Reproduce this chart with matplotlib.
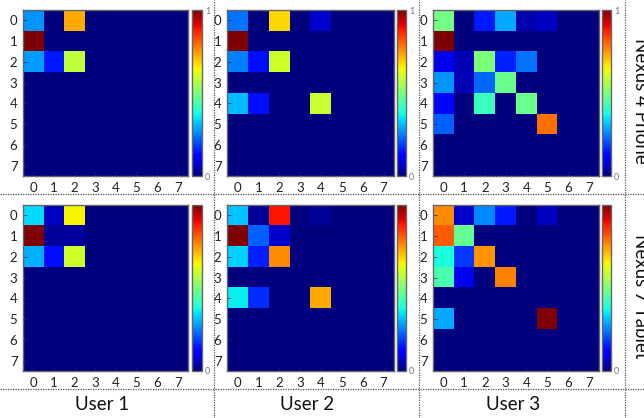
import numpy as np
import matplotlib
matplotlib.use("Agg")
import matplotlib.pyplot as plt
from matplotlib.lines import Line2D

plt.rcParams['font.family'] = ['Lato', 'DejaVu Sans']

users = ["User 1", "User 2", "User 3"]
devices = ["Nexus 4 Phone", "Nexus 7 Tablet"]
tick_labels = [str(i) for i in range(8)]

# Transition matrices (row = from-state, column = to-state), normalised to [0, 1]
phone_user1 = [
    [0.27, 0, 0.73, 0, 0, 0, 0, 0],
    [1.00, 0, 0, 0, 0, 0, 0, 0],
    [0.28, 0.15, 0.58, 0, 0, 0, 0, 0],
    [0, 0, 0, 0, 0, 0, 0, 0],
    [0, 0, 0, 0, 0, 0, 0, 0],
    [0, 0, 0, 0, 0, 0, 0, 0],
    [0, 0, 0, 0, 0, 0, 0, 0],
    [0, 0, 0, 0, 0, 0, 0, 0],
]
phone_user2 = [
    [0.24, 0, 0.68, 0, 0.07, 0, 0, 0],
    [1.00, 0, 0, 0, 0, 0, 0, 0],
    [0.25, 0.14, 0.60, 0, 0, 0, 0, 0],
    [0, 0, 0, 0, 0, 0, 0, 0],
    [0.31, 0.14, 0, 0, 0.59, 0, 0, 0],
    [0, 0, 0, 0, 0, 0, 0, 0],
    [0, 0, 0, 0, 0, 0, 0, 0],
    [0, 0, 0, 0, 0, 0, 0, 0],
]
phone_user3 = [
    [0.49, 0, 0.15, 0.29, 0.04, 0.06, 0, 0],
    [1.00, 0, 0, 0, 0, 0, 0, 0],
    [0.10, 0.05, 0.50, 0.16, 0.24, 0, 0, 0],
    [0.27, 0.05, 0.23, 0.48, 0, 0, 0, 0],
    [0.13, 0, 0.42, 0, 0.48, 0, 0, 0],
    [0.22, 0, 0, 0, 0, 0.79, 0, 0],
    [0, 0, 0, 0, 0, 0, 0, 0],
    [0, 0, 0, 0, 0, 0, 0, 0],
]
tablet_user1 = [
    [0.34, 0.06, 0.65, 0, 0, 0, 0, 0],
    [1.00, 0.02, 0.03, 0, 0, 0, 0, 0],
    [0.30, 0.14, 0.60, 0, 0, 0, 0, 0],
    [0, 0, 0, 0, 0, 0, 0, 0],
    [0, 0, 0, 0, 0, 0, 0, 0],
    [0, 0, 0, 0, 0, 0, 0, 0],
    [0, 0, 0, 0, 0, 0, 0, 0],
    [0, 0, 0, 0, 0, 0, 0, 0],
]
tablet_user2 = [
    [0.32, 0.02, 0.89, 0, 0.02, 0, 0, 0],
    [1.00, 0.22, 0.07, 0, 0, 0, 0, 0],
    [0.33, 0.16, 0.76, 0, 0, 0, 0, 0],
    [0, 0, 0, 0, 0, 0, 0, 0],
    [0.36, 0.17, 0, 0, 0.73, 0, 0, 0],
    [0, 0, 0, 0, 0, 0, 0, 0],
    [0, 0, 0, 0, 0, 0, 0, 0],
    [0, 0, 0, 0, 0, 0, 0, 0],
]
tablet_user3 = [
    [0.76, 0.07, 0.26, 0.15, 0, 0.06, 0, 0],
    [0.81, 0.47, 0, 0, 0, 0, 0, 0],
    [0.38, 0.18, 0.75, 0, 0, 0, 0, 0],
    [0.44, 0.10, 0, 0.77, 0, 0, 0, 0],
    [0, 0, 0, 0, 0, 0, 0, 0],
    [0.29, 0, 0, 0, 0, 1.00, 0, 0],
    [0, 0, 0, 0, 0, 0, 0, 0],
    [0, 0, 0, 0, 0, 0, 0, 0],
]

matrices = [
    [phone_user1, phone_user2, phone_user3],
    [tablet_user1, tablet_user2, tablet_user3],
]

W, H = 644, 418
fig = plt.figure(figsize=(W / 100, H / 100), dpi=100)
fig.patch.set_facecolor("white")


def px_axes(x0, y0, x1, y1):
    """Add axes given pixel box (top-left origin)."""
    return fig.add_axes([x0 / W, 1 - y1 / H, (x1 - x0) / W, (y1 - y0) / H])


col_x = [(23, 188, 192, 202), (227, 394, 397, 406), (433, 599, 602, 611)]
row_y = [(10, 176), (205, 371)]

for r, (ytop, ybot) in enumerate(row_y):
    for c, (ax0, ax1, cx0, cx1) in enumerate(col_x):
        ax = px_axes(ax0, ytop, ax1, ybot)
        data = np.array(matrices[r][c], dtype=float)
        im = ax.imshow(data, cmap="jet", vmin=0, vmax=1,
                       interpolation="nearest", aspect="auto")
        ax.set_xticks(range(8))
        ax.set_yticks(range(8))
        ax.set_xticklabels(tick_labels, fontsize=9.5, color="#222222")
        ax.set_yticklabels(tick_labels, fontsize=9.5, color="#222222")
        ax.tick_params(direction="in", length=3, width=0.5, color="#1a1a7a", pad=4)
        for sp in ax.spines.values():
            sp.set_color("#666666")
            sp.set_linewidth(1.0)

        cax = px_axes(cx0, ytop, cx1, ybot)
        cb = fig.colorbar(im, cax=cax)
        cb.outline.set_edgecolor("#666666")
        cb.outline.set_linewidth(1.0)
        cb.set_ticks([0, 1] if r == 0 else [0])
        cb.ax.tick_params(labelsize=6.5, labelcolor="#777777", length=0, pad=2)

# Column labels
for c, (ax0, ax1, _, _) in enumerate(col_x):
    fig.text(((ax0 + ax1) / 2 - 3) / W, 1 - 405 / H, users[c],
             ha="center", va="center", fontsize=13.5, color="#111111")

# Row labels on the right edge
for r, (ytop, ybot) in enumerate(row_y):
    fig.text(632 / W, 1 - ((ytop + ybot) / 2 + 8) / H, devices[r],
             rotation=270, ha="left", va="center", fontsize=13.5, color="#111111")

# Dotted panel separators
sep_style = dict(color="#555555", linestyle=(0, (1, 1)), linewidth=0.9)
for yy in (194, 389):
    fig.add_artist(Line2D([0, 1], [1 - yy / H, 1 - yy / H], transform=fig.transFigure, **sep_style))
for xx in (214, 419, 625):
    fig.add_artist(Line2D([xx / W, xx / W], [0, 1], transform=fig.transFigure, **sep_style))

fig.savefig("out.png", dpi=100, facecolor="white")
